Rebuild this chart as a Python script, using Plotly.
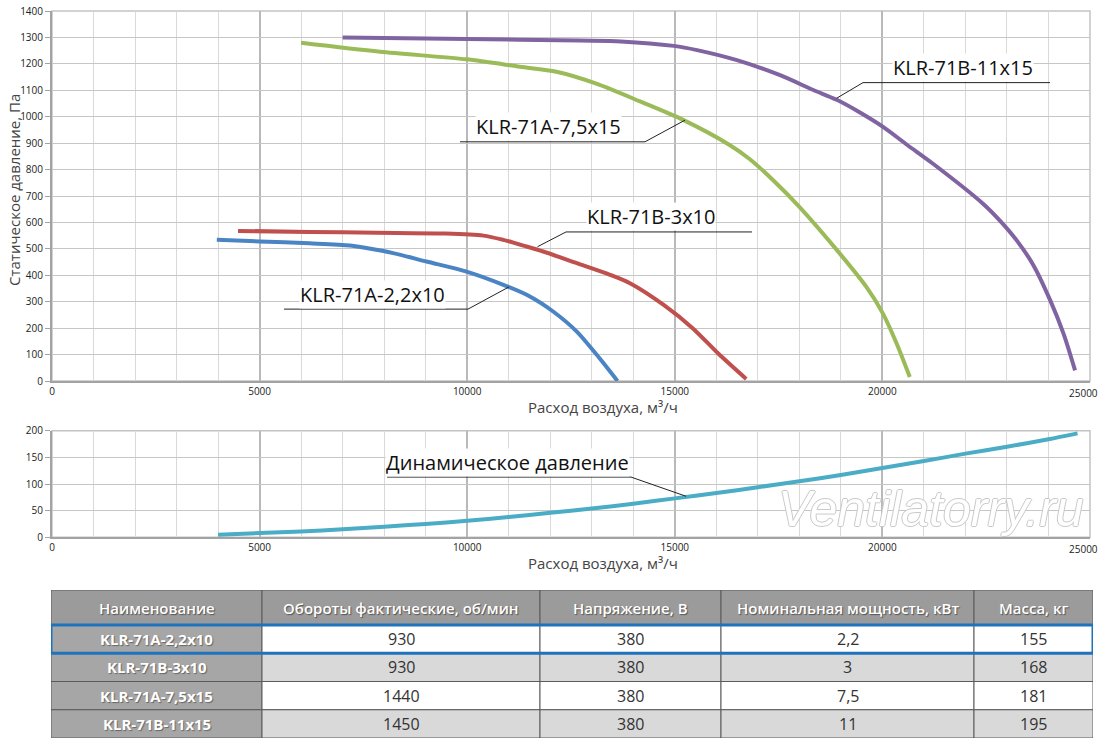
import plotly.graph_objects as go

# ---------------- data ----------------
q_a22 = [3970, 5000, 6200, 7170, 7570, 8215, 9020, 9984, 10870, 11510, 12070, 12640, 13120, 13620]
p_a22 = [534, 528, 521, 513, 503, 484, 452, 414, 364, 320, 263, 187, 99, 0]

q_b3 = [4480, 6200, 7810, 9420, 10390, 10870, 11430, 11830, 12640, 13440, 13920, 14740, 15430, 16040, 16720]
p_b3 = [568, 564, 561, 558, 550, 534, 509, 490, 446, 402, 370, 287, 200, 105, 8]

q_a75 = [6000, 7900, 9980, 11270, 12150, 13110, 14160, 15200, 16320, 16800, 17400, 18000, 18970, 19610,
         20010, 20340, 20660]
p_a75 = [1280, 1246, 1217, 1189, 1170, 1125, 1058, 988, 893, 840, 755, 659, 483, 357,
         256, 143, 15]

q_b11 = [7000, 10000, 12710, 13700, 14976, 15536, 16496, 17536, 18336, 18900, 19460, 20050, 20600, 21220,
         22430, 22830, 23230, 23630, 24040, 24360, 24640]
p_b11 = [1300, 1294, 1288, 1285, 1268, 1252, 1214, 1157, 1101, 1064, 1016, 958, 893, 822,
         670, 607, 533, 440, 306, 180, 40]

q_dyn = [4000, 5000, 6000, 7000, 8000, 9000, 10000, 11000, 12000, 13000, 14000, 15000,
         16000, 17000, 18000, 19000, 20000, 21000, 22000, 23000, 24000, 24700]
p_dyn = [5, 8, 11, 15, 20, 25, 31, 38, 46, 54, 63, 73, 83, 94, 105, 117, 130, 143, 157, 170, 184, 195]

series_names = ["KLR-71A-2,2x10", "KLR-71B-3x10", "KLR-71A-7,5x15", "KLR-71B-11x15"]
dyn_name = "Динамическое давление"

x_title = "Расход воздуха, м³/ч"
y_title = "Статическое давление, Па"
x_ticks = [0, 5000, 10000, 15000, 20000, 25000]

tbl_headers = ["Наименование", "Обороты фактические, об/мин", "Напряжение, В",
               "Номинальная мощность, кВт", "Масса, кг"]
tbl_rpm = [930, 930, 1440, 1450]
tbl_volt = [380, 380, 380, 380]
tbl_power = ["2,2", "3", "7,5", "11"]
tbl_mass = [155, 168, 181, 195]

# ---------------- figure ----------------
W, H = 1100, 744
def px(x):
    return x / W
def py(y):
    return 1 - y / H

colors = ["#4a84c4", "#c0504d", "#9bbb59", "#8064a2"]
curves = [(q_a22, p_a22), (q_b3, p_b3), (q_a75, p_a75), (q_b11, p_b11)]

fig = go.Figure()
for (q, p), c, n in zip(curves, colors, series_names):
    fig.add_trace(go.Scatter(x=q, y=p, mode="lines", name=n,
                             line=dict(color=c, width=4, shape="spline", smoothing=0.8),
                             xaxis="x", yaxis="y"))
fig.add_trace(go.Scatter(x=q_dyn, y=p_dyn, mode="lines", name=dyn_name,
                         line=dict(color="#4bacc6", width=4, shape="spline", smoothing=0.8),
                         xaxis="x2", yaxis="y2"))

tick_font = dict(family="Open Sans", size=10, color="#222")
axis_common = dict(showline=True, linecolor="#a3a3a3", linewidth=2, zeroline=False,
                   automargin=False, tickformat="d", tickfont=tick_font)
xdom = [px(52), px(1090)]

# table geometry (pixels inside the table axis)
col_w = [211, 278, 181, 253, 119]
head_h = 35
row_h = 28.25
tbl_w = sum(col_w)
tbl_h = head_h + row_h * 4

xaxis_common = dict(domain=xdom, range=[0, 25000], tickvals=x_ticks[:-1],
                    showgrid=True, gridcolor="#b9b9b9", gridwidth=1.5,
                    minor=dict(dtick=1000, showgrid=True, gridcolor="#d9d9d9", gridwidth=1),
                    ticks="", **axis_common)

fig.update_layout(
    width=W, height=H, margin=dict(l=0, r=0, t=0, b=0, autoexpand=False),
    paper_bgcolor="white", plot_bgcolor="white", showlegend=False,
    font=dict(family="Open Sans", color="#222"),
    xaxis=dict(anchor="y", **xaxis_common),
    yaxis=dict(domain=[py(381), py(11)], range=[0, 1400], dtick=100, anchor="x",
               showgrid=True, gridcolor="#c6c6c6", gridwidth=1,
               ticks="outside", ticklen=5, tickcolor="#a3a3a3", **axis_common),
    xaxis2=dict(anchor="y2", **xaxis_common),
    yaxis2=dict(domain=[py(537.3), py(430.7)], range=[0, 200], dtick=50, anchor="x2",
                showgrid=True, gridcolor="#c6c6c6", gridwidth=1,
                ticks="outside", ticklen=5, tickcolor="#a3a3a3", **axis_common),
    xaxis3=dict(domain=[px(51), px(51 + tbl_w)], range=[0, tbl_w], visible=False,
                anchor="y3", automargin=False),
    yaxis3=dict(domain=[py(590 + tbl_h), py(590)], range=[tbl_h, 0], visible=False,
                anchor="x3", automargin=False),
)

shapes = []
annotations = []
# light borders (top / right) of both plots
for xr, yr in [("x", "y"), ("x2", "y2")]:
    shapes.append(dict(type="rect", xref=xr + " domain", yref=yr + " domain",
                       x0=0, x1=1, y0=0, y1=1, line=dict(color="#c4c4c4", width=1.5),
                       layer="below"))
    # last x tick label sits just left of the right border in the reference
    annotations.append(dict(text=str(x_ticks[-1]), x=x_ticks[-1], y=0, xref=xr, yref=yr,
                            showarrow=False, xanchor="center", yanchor="top", xshift=-7, yshift=-3,
                            font=tick_font))

# callouts: (text, text_x, underline x0, x1, y, leader start x, curve x, curve y, axes, units per px)
callouts = [
    (series_names[3], 21950, 19533, 24037, 1129, 19533, 18899, 1070, "x", "y", 1 / 0.2643),
    (series_names[2], 11958, 9827, 14282, 905, 14282, 15246, 987, "x", "y", 1 / 0.2643),
    (series_names[1], 14415, 12380, 16860, 564, 12380, 11693, 508, "x", "y", 1 / 0.2643),
    (series_names[0], 7731, 5588, 10019, 272, 10019, 11007, 356, "x", "y", 1 / 0.2643),
    (dyn_name, 10970, 8069, 13945, 113, 13945, 15270, 77, "x2", "y2", 1 / 0.533),
]
for t, tx, ux0, ux1, uy, sx, cx, cy, xr, yr, upp in callouts:
    shapes.append(dict(type="line", xref=xr, yref=yr, x0=ux0, x1=ux1, y0=uy, y1=uy,
                       line=dict(color="#222", width=1), layer="above"))
    shapes.append(dict(type="line", xref=xr, yref=yr, x0=sx, x1=cx, y0=uy, y1=cy,
                       line=dict(color="#222", width=1), layer="above"))
    annotations.append(dict(text=t, x=tx, y=uy + 15 * upp, xref=xr, yref=yr, showarrow=False,
                            xanchor="center", yanchor="middle", bgcolor="white", borderpad=0,
                            font=dict(family="Open Sans", size=20, color="#111")))

annotations += [
    dict(text=x_title, x=px(603), y=py(407), xref="paper", yref="paper", showarrow=False,
         font=dict(family="Open Sans", size=15, color="#444"), xanchor="center", yanchor="middle"),
    dict(text=x_title, x=px(603), y=py(563), xref="paper", yref="paper", showarrow=False,
         font=dict(family="Open Sans", size=15, color="#444"), xanchor="center", yanchor="middle"),
    dict(text=y_title, x=px(14), y=py(190), xref="paper", yref="paper", showarrow=False,
         textangle=-90, font=dict(family="Open Sans", size=15, color="#444"),
         xanchor="center", yanchor="middle"),
    dict(text="Ventilatorry.ru", x=px(931), y=py(509), xref="paper", yref="paper", showarrow=False,
         xanchor="center", yanchor="middle",
         font=dict(family="Liberation Sans", size=50, style="italic", color="white",
                   shadow="1px 0 0 #c9c9c9, -1px 0 0 #c9c9c9, 0 1px 0 #c9c9c9, 0 -1px 0 #c9c9c9")),
]

# ---------------- table (cells drawn on the hidden x3/y3 axes) ----------------
columns = [series_names, tbl_rpm, tbl_volt, tbl_power, tbl_mass]
edges = [0]
for w in col_w:
    edges.append(edges[-1] + w)
cell_line = dict(color="#5a5a5a", width=1)
for c, htxt in enumerate(tbl_headers):
    x0, x1 = edges[c], edges[c + 1]
    shapes.append(dict(type="rect", xref="x3", yref="y3", x0=x0, x1=x1, y0=0, y1=head_h,
                       fillcolor="#9b9b9b", line=cell_line, layer="below"))
    annotations.append(dict(text=htxt, x=(x0 + x1) / 2, y=head_h / 2, xref="x3", yref="y3",
                            showarrow=False, xanchor="center", yanchor="middle",
                            font=dict(family="Open Sans", size=15, color="white", weight=600,
                                      shadow="1px 1px 1px #555555")))
    for r, val in enumerate(columns[c]):
        y0 = head_h + r * row_h
        y1 = y0 + row_h
        if c == 0:
            fill = "#a6a6a6"
            font = dict(family="Open Sans", size=15, color="white", weight=700,
                        shadow="1px 1px 1px #666666")
        else:
            fill = "white" if r % 2 == 0 else "#d9d9d9"
            font = dict(family="Open Sans", size=16, color="#333")
        shapes.append(dict(type="rect", xref="x3", yref="y3", x0=x0, x1=x1, y0=y0, y1=y1,
                           fillcolor=fill, line=cell_line, layer="below"))
        annotations.append(dict(text=str(val), x=(x0 + x1) / 2, y=(y0 + y1) / 2,
                                xref="x3", yref="y3", showarrow=False,
                                xanchor="center", yanchor="middle", font=font))

# highlight border around the first table row
shapes.append(dict(type="rect", xref="x3", yref="y3", x0=0, x1=tbl_w,
                   y0=head_h, y1=head_h + row_h, line=dict(color="#1f73bd", width=3), layer="above"))

fig.update_layout(shapes=shapes, annotations=annotations)
fig.write_html("out.html", config={"displayModeBar": False},
               post_script="document.body.style.margin='0';")
